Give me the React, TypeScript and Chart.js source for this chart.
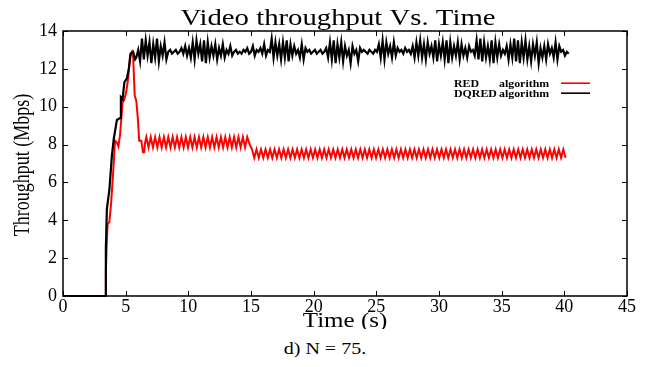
import React, { useEffect, useRef } from "react";
import { Chart, registerables } from "chart.js";

Chart.register(...registerables);

const TITLE = "Video throughput Vs. Time";
const X_TITLE = "Time (s)";
const Y_TITLE = "Throughput (Mbps)";
const CAPTION = "d) N = 75.";
const X_TICKS = [0, 5, 10, 15, 20, 25, 30, 35, 40, 45];
const Y_TICKS = [0, 2, 4, 6, 8, 10, 12, 14];
const LEGEND_NAMES = ["RED", "DQRED"];
const LEGEND_SUFFIX = "algorithm";
const RED_COLOR = "#ff0000";
const DQRED_COLOR = "#000000";

// DQRED (black) start-up ramp
const dqredRiseTimes = [0, 3.38, 3.42, 3.5, 3.7, 3.9, 4.05, 4.3, 4.55, 4.62, 4.75, 4.9, 5.1, 5.25, 5.4, 5.6, 5.75];
const dqredRiseValues = [0, 0, 2.5, 4.6, 5.6, 7.4, 8.3, 9.3, 9.4, 10.5, 10.4, 11.3, 11.5, 12.0, 12.8, 12.9, 12.5];
// DQRED steady state, sampled every 0.15 s from 5.85 s
const dqredSteadyStart = 5.85;
const dqredSteadyStep = 0.15;
const dqredSteadyValues = [
  12.6, 13.0, 12.4, 13.6, 12.5, 13.5, 12.7, 13.4, 12.3, 13.3, 12.6, 13.6, 12.4, 13.2, 12.7, 13.4, 12.5,
  12.9, 13.0, 12.8, 12.9, 13.0, 12.8, 12.9, 13.1, 12.8,
  13.2, 12.7, 13.1, 12.6, 13.4, 12.5, 13.5, 12.8, 13.3, 12.4, 13.5, 12.3, 13.4, 12.6, 13.2, 12.7, 13.3, 12.5, 13.1, 12.7, 13.3, 12.6, 13.0, 12.8, 13.2, 12.7, 12.9, 13.0, 12.8,
  12.9, 12.8, 13.0, 12.9, 13.1, 12.8, 12.9, 13.2, 12.7, 13.0, 12.9, 13.1, 12.8, 13.3, 12.7, 13.0, 12.9,
  13.6, 12.6, 13.4, 12.7, 13.3, 12.5, 13.4, 12.6, 13.5, 12.4, 13.3, 12.7, 13.2, 12.8, 13.0, 12.6, 13.3, 12.5, 13.1, 12.9, 13.0, 12.8, 12.9, 13.0,
  12.8, 12.9, 13.0, 12.8, 12.9, 13.1,
  12.6, 13.4, 12.5, 13.5, 12.3, 13.3, 12.6, 13.4, 12.4, 13.2, 12.7, 13.0, 12.3, 13.2, 12.8, 13.0, 12.4, 13.1, 12.9, 13.0,
  12.9, 12.8, 13.0, 12.9, 12.8, 13.0, 12.9,
  13.3, 12.6, 13.5, 12.5, 13.4, 12.8, 13.2, 12.6, 13.4, 12.7, 13.1,
  12.9, 13.0, 12.8, 13.1, 12.9, 13.0, 12.8, 13.2,
  12.6, 13.4, 12.7, 13.5, 12.6, 13.3, 12.5, 13.4, 12.8, 13.2, 12.6, 13.5, 12.4, 13.3, 12.7, 13.4, 12.5, 13.5, 12.3, 13.4, 12.6, 13.2, 12.7,
  13.4, 12.5, 13.3, 12.7, 13.1, 12.6, 13.2, 12.9, 13.0, 12.7, 13.5, 12.5, 13.6, 12.4, 13.4, 12.6, 13.2, 12.5, 13.5, 12.3,
  13.4, 12.6, 13.3, 12.7, 13.0, 12.8, 13.2, 12.5, 13.3, 12.6, 13.6, 12.4, 13.5, 12.3, 13.4, 12.6, 13.5, 12.5, 13.2, 12.4,
  13.3, 12.7, 13.4, 12.3, 13.1, 12.6, 13.2, 12.5, 13.3, 12.8, 13.1, 12.6, 13.4, 12.5, 13.2, 12.9, 13.0, 12.7, 12.9, 12.8,
];

// RED (red) start-up ramp and overshoot
const redRiseTimes = [0, 3.38, 3.42, 3.5, 3.56, 3.7, 3.85, 4.0, 4.15, 4.3, 4.42, 4.55, 4.75, 4.9, 5.05, 5.2, 5.35, 5.5, 5.6, 5.72, 5.85, 5.97, 6.08, 6.25, 6.38, 6.48, 6.55];
const redRiseValues = [0, 0, 1.3, 3.0, 3.8, 3.9, 5.0, 6.5, 8.2, 8.1, 7.9, 8.5, 10.2, 10.4, 10.8, 11.5, 12.7, 12.9, 12.6, 10.6, 10.3, 9.4, 8.2, 8.2, 7.6, 7.6, 8.1];
// RED first plateau, every 0.175 s from 6.65 s
const redPlateau1Start = 6.65;
const redPlateau1Step = 0.175;
const redPlateau1Values = [
  8.4, 7.85, 8.4, 7.85, 8.4, 7.85, 8.4, 7.85, 8.4, 7.85,
  8.4, 7.85, 8.4, 7.85, 8.4, 7.85, 8.4, 7.85, 8.4, 7.85,
  8.4, 7.85, 8.4, 7.85, 8.4, 7.85, 8.4, 7.85, 8.4, 7.85,
  8.4, 7.85, 8.4, 7.85, 8.4, 7.85, 8.4, 7.85, 8.4, 7.85,
  8.4, 7.85, 8.4, 7.85, 8.4, 7.85, 8.4,
];
// RED second plateau, every 0.18 s from 14.9 s
const redPlateau2Start = 14.9;
const redPlateau2Step = 0.18;
const redPlateau2Values = [
  8.0,
  7.75, 7.3, 7.75, 7.3, 7.75, 7.3, 7.75, 7.3, 7.75, 7.3, 7.75, 7.3, 7.75, 7.3, 7.75, 7.3, 7.75, 7.3, 7.75, 7.3,
  7.75, 7.3, 7.75, 7.3, 7.75, 7.3, 7.75, 7.3, 7.75, 7.3, 7.75, 7.3, 7.75, 7.3, 7.75, 7.3, 7.75, 7.3, 7.75, 7.3,
  7.75, 7.3, 7.75, 7.3, 7.75, 7.3, 7.75, 7.3, 7.75, 7.3, 7.75, 7.3, 7.75, 7.3, 7.75, 7.3, 7.75, 7.3, 7.75, 7.3,
  7.75, 7.3, 7.75, 7.3, 7.75, 7.3, 7.75, 7.3, 7.75, 7.3, 7.75, 7.3, 7.75, 7.3, 7.75, 7.3, 7.75, 7.3, 7.75, 7.3,
  7.75, 7.3, 7.75, 7.3, 7.75, 7.3, 7.75, 7.3, 7.75, 7.3, 7.75, 7.3, 7.75, 7.3, 7.75, 7.3, 7.75, 7.3, 7.75, 7.3,
  7.75, 7.3, 7.75, 7.3, 7.75, 7.3, 7.75, 7.3, 7.75, 7.3, 7.75, 7.3, 7.75, 7.3, 7.75, 7.3, 7.75, 7.3, 7.75, 7.3,
  7.75, 7.3, 7.75, 7.3, 7.75, 7.3, 7.75, 7.3, 7.75, 7.3, 7.75, 7.3, 7.75, 7.3, 7.75, 7.3, 7.75, 7.3, 7.75, 7.3,
];

const SERIF = "'Liberation Serif', 'Times New Roman', serif";
const STRETCH = 1.25;

function pairs(times: number[], values: number[]) {
  return times.map((t, i) => ({ x: t, y: values[i] }));
}
function sampled(start: number, step: number, values: number[]) {
  return values.map((v, i) => ({ x: +(start + i * step).toFixed(3), y: v }));
}

function stretchedText(
  ctx: CanvasRenderingContext2D,
  text: string,
  x: number,
  y: number,
  font: string,
  align: CanvasTextAlign,
  baseline: CanvasTextBaseline,
  vertical = false
) {
  ctx.save();
  ctx.translate(x, y);
  if (vertical) {
    ctx.rotate(-Math.PI / 2);
    ctx.scale(1, STRETCH);
  } else {
    ctx.scale(STRETCH, 1);
  }
  ctx.font = font;
  ctx.textAlign = align;
  ctx.textBaseline = baseline;
  ctx.fillStyle = "#000";
  ctx.fillText(text, 0, 0);
  ctx.restore();
}

const decorPlugin = {
  id: "decor",
  afterDatasetsDraw(chart: any) {
    const { ctx, chartArea: a, scales } = chart;
    const xs = scales.x;
    const ys = scales.y;
    ctx.save();
    ctx.strokeStyle = "#000";
    ctx.lineWidth = 1.5;
    ctx.strokeRect(a.left, a.top, a.right - a.left, a.bottom - a.top);
    ctx.lineWidth = 1;
    const tl = 5;
    ctx.beginPath();
    xs.ticks.forEach((t: any) => {
      const px = Math.round(xs.getPixelForValue(t.value)) + 0.5;
      ctx.moveTo(px, a.bottom);
      ctx.lineTo(px, a.bottom - tl);
      ctx.moveTo(px, a.top);
      ctx.lineTo(px, a.top + tl);
    });
    ys.ticks.forEach((t: any) => {
      const py = Math.round(ys.getPixelForValue(t.value)) + 0.5;
      ctx.moveTo(a.left, py);
      ctx.lineTo(a.left + tl, py);
      ctx.moveTo(a.right, py);
      ctx.lineTo(a.right - tl, py);
    });
    ctx.stroke();

    // titles
    stretchedText(ctx, TITLE, 338, 25, `23px ${SERIF}`, "center", "alphabetic");
    stretchedText(ctx, Y_TITLE, 23, 165, `18px ${SERIF}`, "center", "middle", true);
    stretchedText(ctx, X_TITLE, (a.left + a.right) / 2, 327, `20px ${SERIF}`, "center", "alphabetic");

    // legend
    const colors = [RED_COLOR, DQRED_COLOR];
    const rowsBase = [86.5, 96.5];
    LEGEND_NAMES.forEach((name, i) => {
      const font = `bold 9.5px ${SERIF}`;
      stretchedText(ctx, name, 454, rowsBase[i], font, "left", "alphabetic");
      stretchedText(ctx, LEGEND_SUFFIX, 499, rowsBase[i], font, "left", "alphabetic");
      ctx.strokeStyle = colors[i];
      ctx.lineWidth = 1.6;
      ctx.beginPath();
      ctx.moveTo(561, rowsBase[i] - 3.3);
      ctx.lineTo(590, rowsBase[i] - 3.3);
      ctx.stroke();
    });
    ctx.restore();
  },
};

export default function App() {
  const ref = useRef<HTMLCanvasElement | null>(null);

  useEffect(() => {
    if (!ref.current) return;
    const chart = new Chart(ref.current, {
      type: "line",
      data: {
        datasets: [
          {
            label: "DQRED algorithm",
            data: [
              ...pairs(dqredRiseTimes, dqredRiseValues),
              ...sampled(dqredSteadyStart, dqredSteadyStep, dqredSteadyValues),
            ],
            borderColor: DQRED_COLOR,
            borderWidth: 2.2,
            pointRadius: 0,
            tension: 0,
            clip: false as any,
          },
          {
            label: "RED algorithm",
            data: [
              ...pairs(redRiseTimes, redRiseValues),
              ...sampled(redPlateau1Start, redPlateau1Step, redPlateau1Values),
              ...sampled(redPlateau2Start, redPlateau2Step, redPlateau2Values),
            ],
            borderColor: RED_COLOR,
            borderWidth: 2,
            pointRadius: 0,
            tension: 0,
            clip: false as any,
          },
        ],
      },
      options: {
        animation: false,
        responsive: false,
        devicePixelRatio: 1,
        layout: { padding: { left: 0, right: 21, top: 31, bottom: 0 } },
        plugins: {
          legend: { display: false },
          tooltip: { enabled: false },
          title: { display: false },
        },
        scales: {
          x: {
            type: "linear",
            min: 0,
            max: 45,
            afterBuildTicks: (s: any) => {
              s.ticks = X_TICKS.map((v) => ({ value: v }));
            },
            afterFit: (s: any) => {
              s.height = 33;
            },
            grid: { display: false, drawTicks: false },
            border: { display: false },
            ticks: {
              color: "#000",
              padding: 0,
              maxRotation: 0,
              autoSkip: false,
              font: { family: SERIF, size: 18 },
            },
          },
          y: {
            type: "linear",
            min: 0,
            max: 14,
            afterBuildTicks: (s: any) => {
              s.ticks = Y_TICKS.map((v) => ({ value: v }));
            },
            afterFit: (s: any) => {
              s.width = 63;
            },
            grid: { display: false, drawTicks: false },
            border: { display: false },
            ticks: {
              color: "#000",
              padding: 6,
              autoSkip: false,
              font: { family: SERIF, size: 18 },
            },
          },
        },
      },
      plugins: [decorPlugin],
    });
    return () => chart.destroy();
  }, []);

  return (
    <div style={{ position: "absolute", left: 0, top: 0, width: 648, height: 367, background: "#fff" }}>
      <canvas ref={ref} width={648} height={329} style={{ display: "block" }} />
      <div
        style={{
          position: "absolute",
          left: 0,
          top: 339,
          width: 650,
          textAlign: "center",
          fontFamily: SERIF,
          fontSize: 16,
          lineHeight: "20px",
          color: "#000",
        }}
      >
        <span style={{ display: "inline-block", transform: `scaleX(${STRETCH})` }}>{CAPTION}</span>
      </div>
    </div>
  );
}
